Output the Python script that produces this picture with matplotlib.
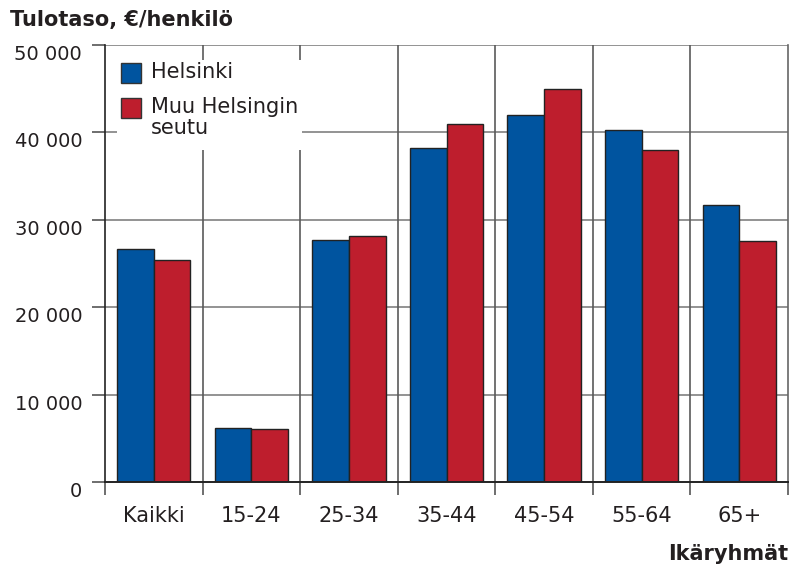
import matplotlib
matplotlib.use("Agg")
import matplotlib.pyplot as plt
from matplotlib.patches import Rectangle
import numpy as np

# data
groups = ['Kaikki', '15-24', '25-34', '35-44', '45-54', '55-64', '65+']
helsinki = [26700, 6200, 27700, 38200, 42000, 40300, 31700]
muu_seutu = [25450, 6050, 28200, 41000, 45000, 38000, 27550]
series_names = ['Helsinki', 'Muu Helsingin\nseutu']
yticks = [0, 10000, 20000, 30000, 40000, 50000]
ytick_labels = ['0', '10 000', '20 000', '30 000', '40 000', '50 000']

blue = '#00549F'
red = '#BE1E2D'
txt = '#231F20'

plt.rcParams['font.family'] = ['DejaVu Sans']

W, H = 791, 571
fig = plt.figure(figsize=(W / 100, H / 100), dpi=100)


def px(x, y):
    """pixel position (from top left) -> figure fraction"""
    return x / W, 1 - y / H


ax = fig.add_axes([105 / W, 1 - 482 / H, 683 / W, 437 / H])

x = np.arange(len(groups))
bw = 0.375
ax.bar(x - bw / 2, helsinki, bw, color=blue, edgecolor='#222222', linewidth=1.0, zorder=3)
ax.bar(x + bw / 2, muu_seutu, bw, color=red, edgecolor='#222222', linewidth=1.0, zorder=3)

ax.set_xlim(-0.5, len(groups) - 0.5)
ax.set_ylim(0, 50000)

# gridlines
for v in yticks[1:]:
    ax.axhline(v, color='#808080', lw=1.2, zorder=1)
for d in x[:-1] + 0.5:
    ax.axvline(d, color='#5a5a5a', lw=1.2, zorder=1)

ax.spines['top'].set_visible(False)
ax.spines['right'].set_color('#666666')
ax.spines['right'].set_linewidth(1.2)
ax.spines['left'].set_color('#222222')
ax.spines['left'].set_linewidth(1.2)
ax.spines['bottom'].set_color('#222222')
ax.spines['bottom'].set_linewidth(1.4)
ax.spines['bottom'].set_zorder(4)

ax.set_yticks(yticks)
ax.set_yticklabels(ytick_labels, fontsize=14, color=txt)
ax.tick_params(axis='y', length=9.4, width=1.2, color='#555555', pad=7)
for lbl in ax.get_yticklabels():
    lbl.set_va('top')

ax.set_xticks(np.arange(-0.5, len(groups)), labels=[''] * (len(groups) + 1))
ax.tick_params(axis='x', which='major', length=9.4, width=1.2, color='#555555')
ax.set_xticks(x, labels=groups, minor=True)
ax.tick_params(axis='x', which='minor', length=0, pad=17, labelsize=15, labelcolor=txt)

# legend drawn by hand: white box covering the grid, two square swatches
x0, y0 = px(117, 150)
x1, y1 = px(302, 60)
fig.add_artist(Rectangle((x0, y0), x1 - x0, y1 - y0, transform=fig.transFigure,
                         facecolor='white', edgecolor='none', zorder=5))
for (cy, col, name) in [(73, blue, series_names[0]), (108, red, series_names[1])]:
    sx, sy = px(121, cy + 10)
    fig.add_artist(Rectangle((sx, sy), 20 / W, 20 / H, transform=fig.transFigure,
                             facecolor=col, edgecolor='#333333', lw=1.0, zorder=6))
    tx, ty = px(151, cy - 11)
    fig.text(tx, ty, name, fontsize=15, color=txt, va='top', ha='left',
             linespacing=1.05, zorder=6)

tx, ty = px(10, 26)
fig.text(tx, ty, 'Tulotaso, €/henkilö', fontsize=15, fontweight='bold', color=txt,
         ha='left', va='baseline')
tx, ty = px(788, 560)
fig.text(tx, ty, 'Ikäryhmät', fontsize=15, fontweight='bold', color=txt,
         ha='right', va='baseline')

fig.savefig('out.png', dpi=100)
